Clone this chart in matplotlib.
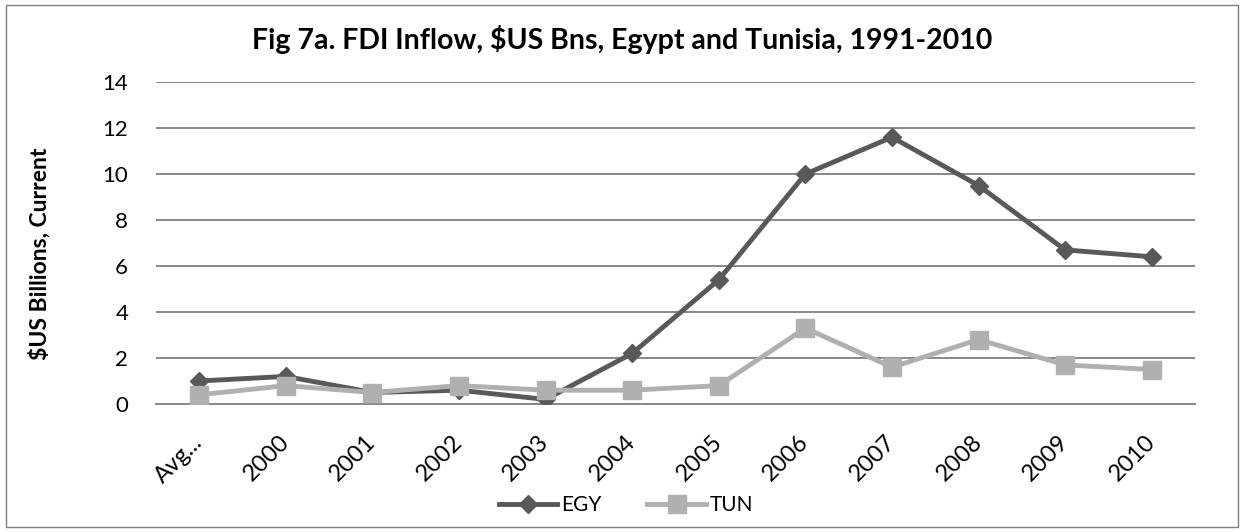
import matplotlib
matplotlib.use('Agg')
import matplotlib.pyplot as plt
from matplotlib.patches import Rectangle

plt.rcParams['font.family'] = ['Lato', 'DejaVu Sans']

############################# Data #############################

categories = ['Avg...', '2000', '2001', '2002', '2003', '2004',
              '2005', '2006', '2007', '2008', '2009', '2010']
egy = [1.0, 1.2, 0.5, 0.6, 0.2, 2.2, 5.4, 10.0, 11.6, 9.5, 6.7, 6.4]
tun = [0.4, 0.8, 0.5, 0.8, 0.6, 0.6, 0.8, 3.3, 1.6, 2.8, 1.7, 1.5]
yticks = [0, 2, 4, 6, 8, 10, 12, 14]

title = 'Fig 7a. FDI Inflow, $US Bns, Egypt and Tunisia, 1991-2010'
ylabel = '$US Billions, Current'

############################# Plot #############################

fig = plt.figure(figsize=(12.44, 5.32), dpi=100)
ax = fig.add_axes([156/1244, 1-404/532, (1195-156)/1244, (404-82)/532])

x = list(range(len(categories)))
ax.plot(x, egy, color='#595959', lw=3.5, marker='D', ms=9.5, label='EGY', zorder=3)
ax.plot(x, tun, color='#b0b0b0', lw=3.5, marker='s', ms=13, label='TUN', zorder=3)

ax.set_xlim(-0.5, len(categories)-0.5)
ax.set_ylim(0, 14)
ax.set_yticks(yticks)
ax.yaxis.grid(True, color='#888888', lw=1.4)
ax.set_axisbelow(True)
for s in ['left', 'right', 'top']:
    ax.spines[s].set_visible(False)
ax.spines['bottom'].set_color('#888888')
ax.spines['bottom'].set_linewidth(1.4)
ax.tick_params(length=0, labelsize=16)
ax.tick_params(axis='y', pad=20)
ax.set_xticks(x)
ax.set_xticklabels(categories, rotation=45, ha='right', va='center', rotation_mode='anchor')
ax.tick_params(axis='x', pad=25, labelsize=17)

fig.text(622/1244, 1-40/532, title, ha='center', va='center', fontsize=20.5, fontweight='bold')
fig.text(40/1244, 1-254/532, ylabel, rotation=90, ha='center', va='center', fontsize=16.5, fontweight='bold')

fig.legend(loc='center', bbox_to_anchor=(626/1244, 1-505/532), ncol=2, frameon=False,
           fontsize=15, handlelength=2.8, columnspacing=2.2, handletextpad=0.2)

fig.patches.append(Rectangle((6/1244, 5/532), 1232/1244, 522/532, transform=fig.transFigure,
                             fill=False, edgecolor='#7f7f7f', lw=1))

plt.savefig('out.png', dpi=100)
